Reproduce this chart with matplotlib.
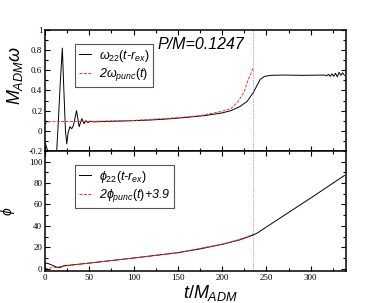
import numpy as np
import matplotlib.pyplot as plt
from matplotlib.ticker import MultipleLocator, FormatStrFormatter

plt.rcParams['mathtext.fontset'] = 'custom'
plt.rcParams['mathtext.it'] = 'Liberation Sans:italic'
plt.rcParams['mathtext.rm'] = 'Liberation Sans'
plt.rcParams['font.family'] = 'Liberation Sans'

# omega_22(t - r_ex)
t_om = [0, 3, 6, 10, 13, 15, 17, 19.5, 21, 23, 24.5, 26, 28, 30, 32, 35.5, 38.5,
        41.5, 44, 46, 48.5, 51, 55, 60, 80, 100, 120, 140, 160, 180, 200, 210,
        220, 228, 235, 240, 243, 248, 255, 270, 290, 316, 318, 320, 322, 324,
        326, 328, 330, 332, 334, 336, 338]
om_22 = [-0.12, -0.2, -0.3, -0.32, -0.22, 0.1, 0.45, 0.82, 0.45, 0.0, -0.13,
         -0.02, 0.04, 0.02, 0.05, 0.2, 0.04, 0.12, 0.07, 0.1, 0.08, 0.095, 0.088,
         0.09, 0.095, 0.1, 0.107, 0.118, 0.133, 0.15, 0.177, 0.2, 0.24, 0.29,
         0.377, 0.46, 0.51, 0.54, 0.55, 0.553, 0.55, 0.553, 0.545, 0.56, 0.54,
         0.565, 0.54, 0.57, 0.535, 0.58, 0.55, 0.575, 0.55]

# 2 omega_punc(t)
t_punc = [0, 2, 5, 50, 100, 150, 175, 200, 210, 218, 225, 229, 233, 235]
om_punc = [0.06, 0.085, 0.09, 0.093, 0.102, 0.13, 0.15, 0.193, 0.22, 0.29,
           0.39, 0.5, 0.58, 0.63]

# phi_22(t - r_ex)
t_ph = [0, 3, 6, 10, 14, 17, 20, 23, 30, 50, 100, 150, 175, 200, 220, 235,
        240, 245, 250, 300, 338]
ph_22 = [5.2, 5.0, 4.0, 2.5, 1.3, 1.0, 2.5, 3.0, 3.5, 5.3, 10, 15, 18.5, 22.8,
         27, 31.4, 33.5, 36.3, 39, 66, 87]

# 2 phi_punc(t) + 3.9
t_php = [0, 20, 50, 100, 150, 200, 220, 230, 235]
ph_punc = [0.0, 2.2, 5.3, 10, 15, 23, 27.5, 30.5, 32.5]

t_merge = 235
red = '#ff2a2a'
dash = (0, (3, 1.5))

fig = plt.figure(figsize=(3.92, 3.03), dpi=100)
ax1 = fig.add_axes([0.115, 0.502, 0.768, 0.399])
ax2 = fig.add_axes([0.115, 0.106, 0.768, 0.396])

ax1.plot(t_om, om_22, color='black', lw=0.7, label=r'$\omega_{22}(t$-$r_{ex})$')
ax1.plot(t_punc, om_punc, color=red, lw=0.7, ls=dash, label=r'2$\omega_{punc}(t)$')
ax1.axvline(t_merge, color='#7070e0', lw=0.6, ls=':')
ax1.set_xlim(0, 340)
ax1.set_ylim(-0.2, 1.0)
ax1.yaxis.set_major_locator(MultipleLocator(0.2))
ax1.yaxis.set_minor_locator(MultipleLocator(0.1))
ax1.yaxis.set_major_formatter(FormatStrFormatter('%g'))
ax1.set_ylabel(r'$M_{ADM}\omega$', fontsize=13)
ax1.yaxis.set_label_coords(-0.066, 0.62)
ax1.text(0.375, 0.88, 'P/M=0.1247', transform=ax1.transAxes, fontsize=11.5,
         style='italic', va='center')
ax1.tick_params(labelbottom=False)

ax2.plot(t_ph, ph_22, color='black', lw=0.7, label=r'$\phi_{22}(t$-$r_{ex})$')
ax2.plot(t_php, ph_punc, color=red, lw=0.7, ls=dash, label=r'2$\phi_{punc}(t)$+3.9')
ax2.axvline(t_merge, color='#7070e0', lw=0.6, ls=':')
ax2.set_xlim(0, 340)
ax2.set_ylim(-2, 110)
ax2.yaxis.set_major_locator(MultipleLocator(20))
ax2.yaxis.set_minor_locator(MultipleLocator(10))
ax2.set_ylabel(r'$\phi$', fontsize=10)
ax2.yaxis.set_label_coords(-0.093, 0.5)
ax2.set_xlabel(r'$t/M_{ADM}$', fontsize=13)
ax2.xaxis.set_label_coords(0.55, -0.1)

for ax in (ax1, ax2):
    ax.xaxis.set_major_locator(MultipleLocator(50))
    ax.xaxis.set_minor_locator(MultipleLocator(25))
    ax.tick_params(which='both', direction='in', top=True, right=True,
                   labelsize=6.5, width=0.8, pad=2)
    ax.tick_params(which='major', length=3.5)
    ax.tick_params(which='minor', length=2)
    for lab in ax.get_xticklabels() + ax.get_yticklabels():
        lab.set_family('Liberation Serif')
    for sp in ax.spines.values():
        sp.set_linewidth(1.1)

for ax, top in ((ax1, 0.884), (ax2, 0.883)):
    leg = ax.legend(loc='upper left', bbox_to_anchor=(0.1, top), fancybox=False,
                    edgecolor='#555555', framealpha=1, handlelength=1.0,
                    handletextpad=0.6, borderpad=0.3, labelspacing=0.2,
                    borderaxespad=0,
                    prop={'size': 9, 'style': 'italic', 'family': 'Liberation Sans'})
    leg.get_frame().set_linewidth(0.8)

fig.savefig('out.png', dpi=100)
